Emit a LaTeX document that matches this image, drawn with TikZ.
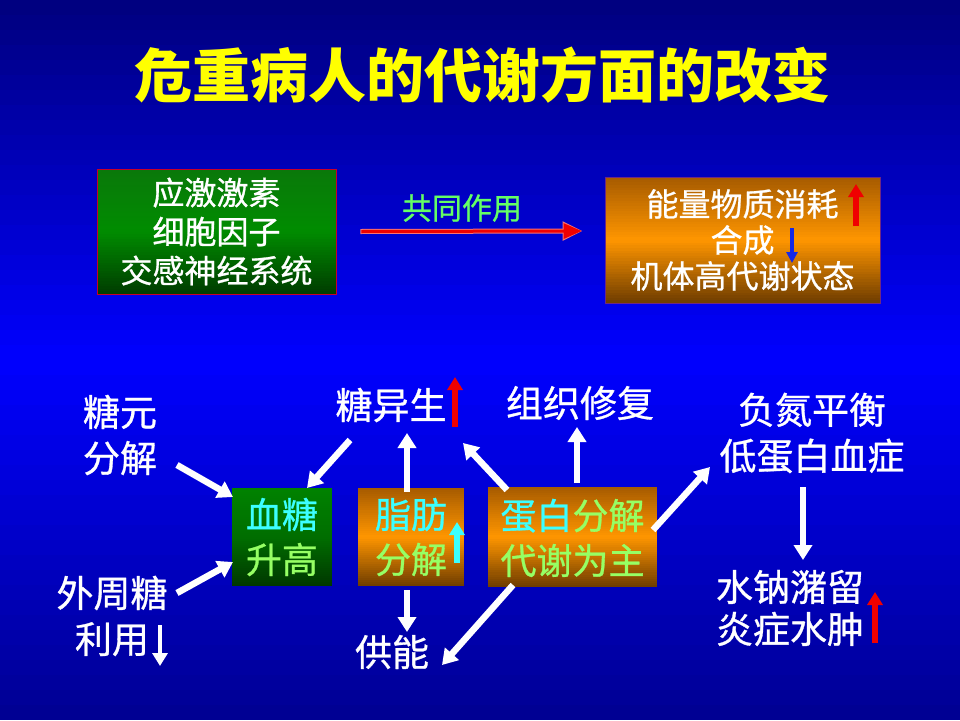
\documentclass[tikz,border=0pt]{standalone}
\usepackage{fontspec}
\newfontfamily\cjk{Noto Sans CJK SC}
\newfontfamily\cjkm[FakeBold=0.8]{Noto Sans CJK SC}
\usetikzlibrary{arrows.meta,calc}
\definecolor{bgtop}{RGB}{0,0,125}
\definecolor{bgmid}{RGB}{0,0,255}
\definecolor{bgbot}{RGB}{0,0,145}
\definecolor{cyanT}{RGB}{60,255,255}
\definecolor{greenT}{RGB}{150,255,100}
\definecolor{coopT}{RGB}{100,255,100}
\definecolor{titleY}{RGB}{255,255,0}
\definecolor{gtop}{RGB}{10,120,10}
\definecolor{gmid}{RGB}{0,140,0}
\definecolor{gbot}{RGB}{0,60,0}
\definecolor{stop}{RGB}{0,130,0}
\definecolor{smid}{RGB}{0,110,0}
\definecolor{sbot}{RGB}{0,55,0}
\definecolor{otop}{RGB}{165,90,0}
\definecolor{omid}{RGB}{255,150,0}
\definecolor{obot}{RGB}{110,60,0}
\definecolor{boxred}{RGB}{200,0,40}
\definecolor{boxpur}{RGB}{110,40,130}
\definecolor{arrred}{RGB}{240,0,0}
\definecolor{arrblue}{RGB}{20,40,230}
% vertical three-colour gradient drawn as thin strips: x1,y1,x2,y2,top,mid,bottom
\newcommand\vgrad[7]{%
  \pgfmathsetmacro\gH{(#4-#2)/48}%
  \foreach \gI in {0,...,47}{%
    \pgfmathsetmacro\gT{(\gI+0.5)/48}%
    \pgfmathsetmacro\gP{\gT<0.5 ? 100*(1-2*\gT) : 100*(2*\gT-1)}%
    \ifdim\gT pt<0.5pt \colorlet{gcol}{#5!\gP!#6}\else\colorlet{gcol}{#7!\gP!#6}\fi
    \fill[gcol] (#1,{#2+\gI*\gH}) rectangle (#3,{min(#4,#2+(\gI+1)*\gH+0.4)});
  }}
\tikzset{
  boxtext/.style={text=white, align=center, font=\cjkm\fontsize{32}{39}\selectfont},
  bigtext/.style={text=white, align=center, inner sep=0pt, font=\cjkm\fontsize{37}{46}\selectfont},
  smalltext/.style={align=center, inner sep=0pt, font=\cjkm\fontsize{36}{45}\selectfont},
  warrow/.style={draw=white, line width=6.5pt, -{Triangle[width=18pt,length=15pt]}},
  tinyarrow/.style={line width=5.5pt, -{Triangle[width=15pt,length=13pt]}},
}
\begin{document}
\begin{tikzpicture}[x=1pt,y=-1pt]
\vgrad{0}{0}{960}{720}{bgtop}{bgmid}{bgbot}
\useasboundingbox (0,0) rectangle (960,720);
% title
\node[text=titleY, font=\cjk\bfseries\fontsize{58}{64}\selectfont] (title) at (482,75) {危重病人的代谢方面的改变};
% top boxes
\vgrad{97}{169}{336}{294}{gtop}{gmid}{gbot}
\node[draw=boxred, line width=0.8pt, inner sep=0pt, minimum width=239pt, minimum height=125pt, boxtext] (box1) at (216.5,231.5) {应激激素\\细胞因子\\交感神经系统};
\vgrad{605}{177}{880}{303}{otop}{omid}{obot}
\node[draw=boxpur, line width=0.8pt, inner sep=0pt, minimum width=275pt, minimum height=126pt, boxtext, font=\cjkm\fontsize{32}{36}\selectfont] (box2) at (742.5,240) {能量物质消耗\\合成\\机体高代谢状态};
\node[text=coopT, font=\cjkm\fontsize{30}{34}\selectfont] (coop) at (462,208) {共同作用};
\draw[draw=arrred!55!white, line width=5pt, -{Triangle[width=18pt,length=20pt]}] ($(box1.east)+(24,0)$) -- ($(box2.west)+(-22,-9)$);
\draw[draw=arrred, line width=3pt, -{Triangle[width=15pt,length=18pt]}] ($(box1.east)+(25,0)$) -- ($(box2.west)+(-23,-9)$);
\draw[tinyarrow, draw=arrred] ($(box2.center)+(113.5,-14)$) -- ($(box2.center)+(113.5,-56)$);
\draw[tinyarrow, line width=4pt, -{Triangle[width=11pt,length=11pt]}, draw=arrblue] ($(box2.center)+(49.5,-12)$) -- ($(box2.center)+(49.5,23)$);
% middle boxes
\vgrad{232}{488}{332}{586}{stop}{smid}{sbot}
\node[inner sep=0pt, minimum width=100pt, minimum height=98pt] (xuetang) at (282,537) {};
\node[smalltext] (xuetangT) at (282,537) {\textcolor{cyanT}{血糖}\\\textcolor{greenT}{升高}};
\vgrad{358}{488}{464}{586}{otop}{omid}{obot}
\node[inner sep=0pt, minimum width=106pt, minimum height=98pt] (zhifang) at (411,537) {};
\node[smalltext] (zhifangT) at (411,537) {\textcolor{cyanT}{脂肪}\\\textcolor{greenT}{分解}};
\vgrad{488}{487}{657}{587}{otop}{omid}{obot}
\node[inner sep=0pt, minimum width=169pt, minimum height=100pt] (danbai) at (572.5,537) {};
\node[smalltext] (danbaiT) at (572.5,538) {\textcolor{cyanT}{蛋白}\textcolor{greenT}{分解}\\\textcolor{greenT}{代谢为主}};
% labels
\node[bigtext] (tangyuan) at (120,435) {糖元\\分解};
\node[bigtext] (waizhou) at (112,616) {外周糖\\利用};
\node[bigtext] (tys) at (391,405) {糖异生};
\node[bigtext] (zzxf) at (580,403) {组织修复};
\node[bigtext] (gongneng) at (392,652) {供能};
\node[bigtext] (fudan) at (812,433) {负氮平衡\\低蛋白血症};
\node[bigtext, font=\cjkm\fontsize{37}{42}\selectfont] (shuina) at (790,608) {水钠潴留\\炎症水肿};
% white arrows
\draw[warrow] ($(tangyuan.center)+(57,30)$) -- ($(xuetang.center)+(-49,-40)$);
\draw[warrow] ($(waizhou.center)+(65,-23)$) -- ($(xuetang.center)+(-49,25)$);
\draw[warrow] ($(tys.center)+(-41,35)$) -- ($(xuetang.center)+(25,-49)$);
\draw[warrow] ($(zhifang.center)+(-4,-45)$) -- ($(tys.center)+(16,28)$);
\draw[warrow] ($(zhifang.center)+(-4,53)$) -- ($(gongneng.center)+(15,-20)$);
\draw[warrow] ($(danbai.center)+(-65.5,-47)$) -- ($(tys.center)+(72,38)$);
\draw[warrow] ($(danbai.center)+(4.5,-54)$) -- ($(zzxf.center)+(-3,24)$);
\draw[warrow] ($(danbai.center)+(-59.5,48)$) -- ($(gongneng.center)+(50,13)$);
\draw[warrow] ($(danbai.center)+(80.5,-7)$) -- ($(fudan.center)+(-102,34)$);
\draw[warrow] ($(fudan.center)+(-9,54)$) -- ($(shuina.center)+(13,-48)$);
% small indicator arrows
\draw[tinyarrow, draw=cyanT] ($(zhifang.center)+(46,26)$) -- ($(zhifang.center)+(46,-15)$);
\draw[tinyarrow, draw=arrred] ($(tys.center)+(64,22)$) -- ($(tys.center)+(64,-28)$);
\draw[tinyarrow, draw=arrred] ($(shuina.center)+(85,35)$) -- ($(shuina.center)+(85,-16)$);
\draw[tinyarrow, line width=4.5pt, draw=white] ($(waizhou.center)+(48,9)$) -- ($(waizhou.center)+(48,50)$);
\end{tikzpicture}
\end{document}
